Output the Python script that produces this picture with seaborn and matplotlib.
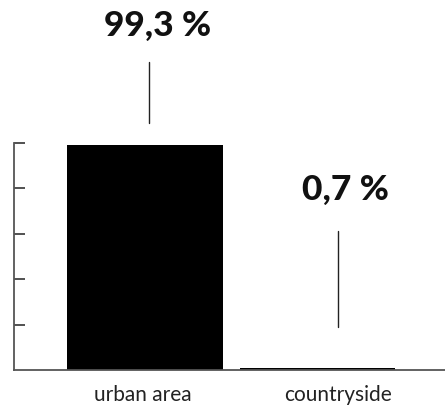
import matplotlib
matplotlib.use("Agg")
import matplotlib.pyplot as plt
import seaborn as sns
import pandas as pd

categories = ["urban area", "countryside"]
shares = [99.3, 0.7]
share_labels = ["99,3 %", "0,7 %"]
y_ticks = [20, 40, 60, 80, 100]

sns.set_theme(style="white")
plt.rcParams["font.family"] = ["Lato", "DejaVu Sans"]

df = pd.DataFrame({"area": categories, "share": shares})

W, H = 445, 408
fig = plt.figure(figsize=(W / 100, H / 100), dpi=100)
ax = fig.add_axes([14 / W, (H - 370) / H, (W - 14) / W, (370 - 143) / H])

sns.barplot(data=df, x="area", y="share", color="black", saturation=1,
            width=0.9, ax=ax, edgecolor="none")

ax.set_xlim(-0.76, 1.74)
ax.set_ylim(0, 100)
ax.set_xlabel("")
ax.set_ylabel("")

for side in ("top", "right"):
    ax.spines[side].set_visible(False)
for side in ("left", "bottom"):
    ax.spines[side].set_color("#555555")
    ax.spines[side].set_linewidth(1.3)

ax.set_yticks(y_ticks)
ax.set_yticklabels([])
ax.tick_params(axis="y", direction="in", length=8, width=1.2, color="#333333", left=True)

ax.set_xticks([-0.014, 1.119])
ax.set_xticklabels(categories, fontsize=15, color="#222222")
ax.tick_params(axis="x", length=0, pad=10.5)

# value callouts above each bar with a thin leader line
callouts = [
    dict(tx=0.075, ty=147.3, lx=0.023, y0=109, y1=135.5),
    dict(tx=1.165, ty=75.0, lx=1.119, y0=19, y1=61.3),
]
for label, c in zip(share_labels, callouts):
    ax.text(c["tx"], c["ty"], label, ha="center", va="baseline", fontsize=25.5,
            fontweight="black", color="#111111", clip_on=False)
    ax.plot([c["lx"], c["lx"]], [c["y0"], c["y1"]], color="#222222",
            linewidth=1.0, clip_on=False)

fig.savefig("out.png", dpi=100)
